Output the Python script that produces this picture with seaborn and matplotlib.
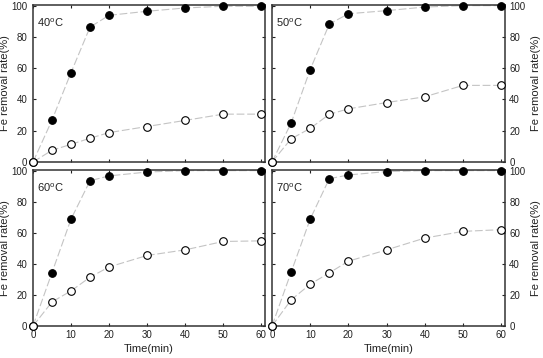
import matplotlib
matplotlib.use("Agg")
import matplotlib.pyplot as plt
import seaborn as sns
import pandas as pd

# sampling times (min)
times = [0, 5, 10, 15, 20, 30, 40, 50, 60]

# Fe removal rate (%) - filled circles (upper curve) and open circles (lower curve)
fe40_filled = [0, 26.8, 57.2, 86.3, 93.8, 96.4, 98.5, 99.6, 99.6]
fe40_open = [0, 7.5, 11.3, 15.2, 18.8, 22.7, 26.6, 30.6, 30.6]
fe50_filled = [0, 24.9, 59.1, 88.2, 94.8, 96.8, 99.1, 100, 100]
fe50_open = [0, 14.8, 21.5, 30.5, 34.0, 38.0, 41.7, 49.0, 49.0]
fe60_filled = [0, 34.4, 68.8, 93.5, 96.6, 99.1, 100, 100, 100]
fe60_open = [0, 15.5, 22.6, 31.4, 38.0, 45.4, 49.0, 54.4, 54.8]
fe70_filled = [0, 34.6, 68.8, 94.8, 97.2, 99.4, 100, 100, 100]
fe70_open = [0, 16.8, 26.9, 34.2, 41.7, 49.0, 56.6, 60.9, 62.0]

temps = ["40", "50", "60", "70"]
series = [
    (fe40_filled, fe40_open),
    (fe50_filled, fe50_open),
    (fe60_filled, fe60_open),
    (fe70_filled, fe70_open),
]

sns.set_style("ticks")
plt.rcParams["font.family"] = ["Liberation Sans", "DejaVu Sans"]
plt.rcParams["mathtext.fontset"] = "custom"
plt.rcParams["mathtext.rm"] = "Liberation Sans"

fig = plt.figure(figsize=(5.43, 3.58), dpi=100)

W, H = 543, 358
boxes = [
    (33, 5, 265, 162),
    (272, 5, 505, 162),
    (33, 170, 265, 326),
    (272, 170, 505, 326),
]

text_col = "#222222"
line_col = "#c4c4c4"

for i, ((x0, y0, x1, y1), temp, (filled, opened)) in enumerate(zip(boxes, temps, series)):
    ax = fig.add_axes([x0 / W, 1 - y1 / H, (x1 - x0) / W, (y1 - y0) / H])
    df = pd.DataFrame({"t": times, "a": filled, "b": opened})

    for col in ["a", "b"]:
        sns.lineplot(data=df, x="t", y=col, ax=ax, color=line_col,
                     linewidth=0.8, linestyle=(0, (7, 2.5)), zorder=1)
    sns.scatterplot(data=df, x="t", y="a", ax=ax, marker="o", s=30,
                    color="black", edgecolor="black", linewidth=0.8,
                    zorder=3, clip_on=False)
    sns.scatterplot(data=df, x="t", y="b", ax=ax, marker="o", s=30,
                    facecolor="white", edgecolor="black", linewidth=0.8,
                    zorder=3, clip_on=False)

    ax.set_xlim(0, 61)
    ax.set_ylim(0, 100.4)
    ax.set_xticks([0, 10, 20, 30, 40, 50, 60])
    ax.set_yticks([0, 20, 40, 60, 80, 100])

    ax.tick_params(direction="in", length=2, width=0.8, labelsize=7,
                   colors=text_col, top=True, right=True, left=True, bottom=True)
    for sp in ax.spines.values():
        sp.set_linewidth(1.1)
        sp.set_color("#333333")

    right = i % 2 == 1
    bottom = i >= 2
    if right:
        ax.tick_params(axis="y", labelleft=False, labelright=True, pad=3)
        ax.yaxis.set_label_position("right")
        ax.set_ylabel("Fe removal rate(%)", fontsize=8, color=text_col, labelpad=4)
    else:
        ax.tick_params(axis="y", pad=4)
        ax.set_ylabel("Fe removal rate(%)", fontsize=8, color=text_col, labelpad=1)

    if bottom:
        ax.tick_params(axis="x", pad=3)
        ax.set_xlabel("Time(min)", fontsize=8, color=text_col, labelpad=3)
    else:
        ax.tick_params(axis="x", labelbottom=False)
        ax.set_xlabel("")

    ax.text(0.018, 0.885, temp + r"$^{\rm o}$C", transform=ax.transAxes,
            fontsize=8, color=text_col, va="center", ha="left")

fig.savefig("out.png", dpi=100)
